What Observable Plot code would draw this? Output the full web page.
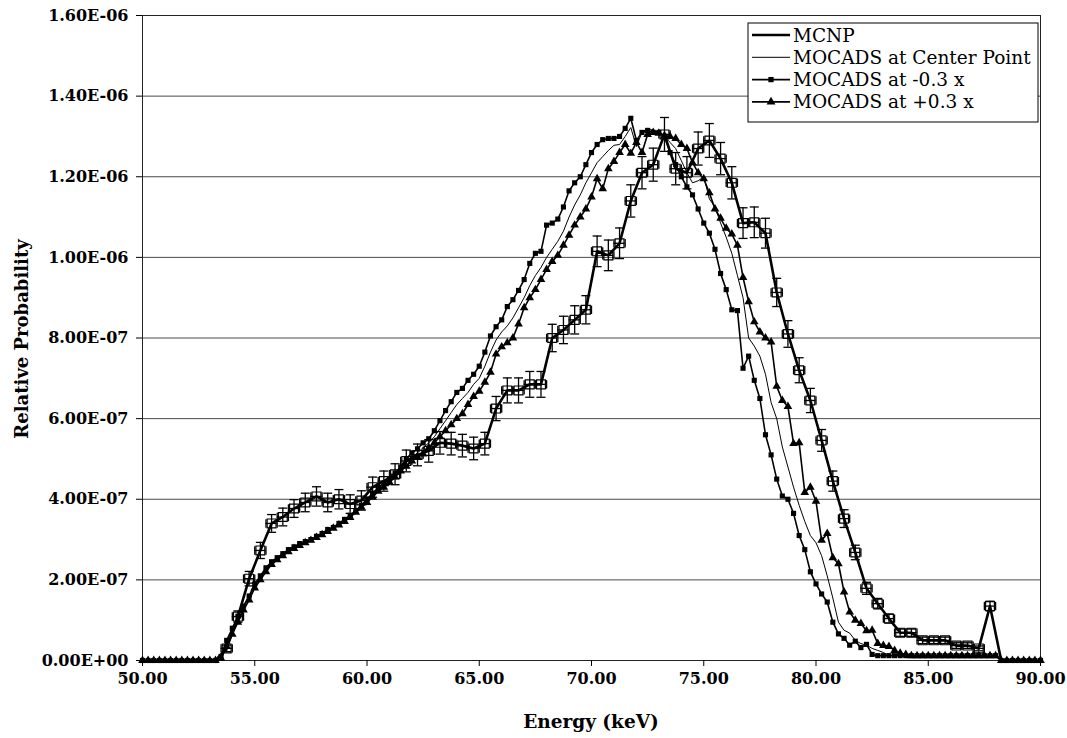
<!DOCTYPE html>
<html>
<head>
<meta charset="utf-8">
<script src="https://cdn.jsdelivr.net/npm/d3@7"></script>
<script src="https://cdn.jsdelivr.net/npm/@observablehq/plot@0.6"></script>
<style>
  html, body { margin: 0; padding: 0; background: white; }
  #chart { width: 1067px; height: 738px; }
</style>
</head>
<body>
<div id="chart"></div>
<script>
// ---------- DATA (values in units of 1e-7) ----------
const UNIT = 1e-7;

const xTicks = [50, 55, 60, 65, 70, 75, 80, 85, 90];
const yTicks = [0, 2e-7, 4e-7, 6e-7, 8e-7, 1.0e-6, 1.2e-6, 1.4e-6, 1.6e-6];

const seriesNames = ["MCNP", "MOCADS at Center Point", "MOCADS at -0.3 x", "MOCADS at +0.3 x"];

// MCNP bin centers (0.5 keV bins)
const mcnpEnergy = [
  50.25, 50.75, 51.25, 51.75, 52.25, 52.75, 53.25, 53.75, 54.25, 54.75,
  55.25, 55.75, 56.25, 56.75, 57.25, 57.75, 58.25, 58.75, 59.25, 59.75,
  60.25, 60.75, 61.25, 61.75, 62.25, 62.75, 63.25, 63.75, 64.25, 64.75,
  65.25, 65.75, 66.25, 66.75, 67.25, 67.75, 68.25, 68.75, 69.25, 69.75,
  70.25, 70.75, 71.25, 71.75, 72.25, 72.75, 73.25, 73.75, 74.25, 74.75,
  75.25, 75.75, 76.25, 76.75, 77.25, 77.75, 78.25, 78.75, 79.25, 79.75,
  80.25, 80.75, 81.25, 81.75, 82.25, 82.75, 83.25, 83.75, 84.25, 84.75,
  85.25, 85.75, 86.25, 86.75, 87.25, 87.75, 88.25, 88.75, 89.25, 89.75
];
const mcnpValue = [
  0, 0, 0, 0, 0, 0, 0, 0.30, 1.09, 2.03,
  2.73, 3.40, 3.56, 3.77, 3.92, 4.07, 3.92, 4.00, 3.88, 3.97,
  4.30, 4.45, 4.62, 4.95, 5.10, 5.20, 5.40, 5.38, 5.33, 5.26,
  5.38, 6.25, 6.70, 6.70, 6.85, 6.85, 8.00, 8.20, 8.45, 8.70,
  10.15, 10.05, 10.35, 11.40, 12.10, 12.30, 13.05, 12.20, 12.10, 12.70,
  12.90, 12.45, 11.85, 10.85, 10.87, 10.60, 9.13, 8.10, 7.20, 6.45,
  5.46, 4.45, 3.52, 2.68, 1.79, 1.41, 1.04, 0.69, 0.69, 0.50,
  0.50, 0.50, 0.37, 0.37, 0.30, 1.35, 0, 0, 0, 0
];
const mcnpError = [
  0, 0, 0, 0, 0, 0, 0, 0.08, 0.14, 0.18,
  0.20, 0.22, 0.22, 0.22, 0.23, 0.24, 0.23, 0.24, 0.23, 0.24,
  0.25, 0.25, 0.26, 0.27, 0.27, 0.28, 0.28, 0.28, 0.28, 0.28,
  0.28, 0.30, 0.31, 0.31, 0.32, 0.32, 0.34, 0.34, 0.35, 0.35,
  0.38, 0.38, 0.38, 0.40, 0.40, 0.41, 0.42, 0.40, 0.40, 0.41,
  0.42, 0.40, 0.40, 0.38, 0.38, 0.37, 0.35, 0.33, 0.31, 0.30,
  0.27, 0.25, 0.22, 0.18, 0.15, 0.13, 0.11, 0.09, 0.09, 0.08,
  0.08, 0.08, 0.07, 0.07, 0.06, 0.12, 0, 0, 0, 0
];
const mcnpBinHalfWidth = 0.25;

// MOCADS energies (0.25 keV grid)
const mocadsEnergy = [
  50.00, 50.25, 50.50, 50.75, 51.00, 51.25, 51.50, 51.75, 52.00, 52.25,
  52.50, 52.75, 53.00, 53.25, 53.50, 53.75, 54.00, 54.25, 54.50, 54.75,
  55.00, 55.25, 55.50, 55.75, 56.00, 56.25, 56.50, 56.75, 57.00, 57.25,
  57.50, 57.75, 58.00, 58.25, 58.50, 58.75, 59.00, 59.25, 59.50, 59.75,
  60.00, 60.25, 60.50, 60.75, 61.00, 61.25, 61.50, 61.75, 62.00, 62.25,
  62.50, 62.75, 63.00, 63.25, 63.50, 63.75, 64.00, 64.25, 64.50, 64.75,
  65.00, 65.25, 65.50, 65.75, 66.00, 66.25, 66.50, 66.75, 67.00, 67.25,
  67.50, 67.75, 68.00, 68.25, 68.50, 68.75, 69.00, 69.25, 69.50, 69.75,
  70.00, 70.25, 70.50, 70.75, 71.00, 71.25, 71.50, 71.75, 72.00, 72.25,
  72.50, 72.75, 73.00, 73.25, 73.50, 73.75, 74.00, 74.25, 74.50, 74.75,
  75.00, 75.25, 75.50, 75.75, 76.00, 76.25, 76.50, 76.75, 77.00, 77.25,
  77.50, 77.75, 78.00, 78.25, 78.50, 78.75, 79.00, 79.25, 79.50, 79.75,
  80.00, 80.25, 80.50, 80.75, 81.00, 81.25, 81.50, 81.75, 82.00, 82.25,
  82.50, 82.75, 83.00, 83.25, 83.50, 83.75, 84.00, 84.25, 84.50, 84.75,
  85.00, 85.25, 85.50, 85.75, 86.00, 86.25, 86.50, 86.75, 87.00, 87.25,
  87.50, 87.75, 88.00, 88.25, 88.50, 88.75, 89.00, 89.25, 89.50, 89.75,
  90.00
];
const mocadsCenter = [
  0, 0, 0, 0, 0, 0, 0, 0, 0, 0,
  0, 0, 0, 0, 0.05, 0.40, 0.70, 1.00, 1.30, 1.55,
  1.85, 2.05, 2.25, 2.40, 2.52, 2.62, 2.72, 2.80, 2.88, 2.94,
  3.00, 3.06, 3.14, 3.22, 3.30, 3.38, 3.48, 3.58, 3.70, 3.82,
  3.95, 4.10, 4.24, 4.35, 4.46, 4.60, 4.75, 4.90, 5.05, 5.15,
  5.28, 5.40, 5.55, 5.75, 5.95, 6.15, 6.35, 6.50, 6.65, 6.85,
  7.00, 7.30, 7.65, 7.95, 8.15, 8.30, 8.50, 8.75, 9.00, 9.30,
  9.55, 9.75, 10.00, 10.20, 10.40, 10.65, 11.00, 11.30, 11.55, 11.85,
  12.10, 12.35, 12.50, 12.65, 12.78, 12.80, 13.00, 13.22, 12.75, 13.10,
  13.20, 13.15, 13.10, 13.00, 12.85, 12.70, 12.40, 12.10, 11.85, 11.90,
  12.00, 11.45, 11.25, 10.85, 10.50, 10.10, 9.55, 9.00, 8.00, 7.80,
  7.55, 7.10, 6.40, 6.00, 5.30, 4.80, 4.30, 3.85, 3.45, 3.10,
  2.92, 2.60, 2.10, 1.55, 0.95, 0.75, 0.68, 0.50, 0.42, 0.38,
  0.30, 0.25, 0.20, 0.12, 0.12, 0.12, 0.12, 0.12, 0.12, 0.12,
  0.12, 0.12, 0.12, 0.12, 0.12, 0.12, 0.12, 0.12, 0.12, 0.12,
  0.12, 0.12, 0.12, 0, 0, 0, 0, 0, 0, 0,
  0
];
const mocadsMinus = [
  0, 0, 0, 0, 0, 0, 0, 0, 0, 0,
  0, 0, 0, 0, 0.10, 0.50, 0.80, 1.10, 1.35, 1.60,
  1.90, 2.10, 2.30, 2.45, 2.55, 2.65, 2.75, 2.82, 2.90, 2.95,
  3.00, 3.08, 3.15, 3.25, 3.30, 3.40, 3.50, 3.60, 3.72, 3.85,
  4.00, 4.15, 4.28, 4.40, 4.50, 4.65, 4.80, 5.00, 5.15, 5.25,
  5.40, 5.50, 5.70, 5.95, 6.20, 6.42, 6.65, 6.75, 6.95, 7.10,
  7.30, 7.65, 8.05, 8.28, 8.45, 8.78, 8.95, 9.18, 9.45, 9.85,
  10.10, 10.15, 10.80, 10.85, 10.95, 11.25, 11.65, 11.85, 12.00, 12.30,
  12.60, 12.80, 12.92, 12.95, 12.95, 13.00, 13.20, 13.45, 12.90, 13.10,
  13.15, 13.10, 13.10, 13.00, 12.60, 12.30, 12.00, 11.75, 11.55, 11.20,
  10.85, 10.60, 10.20, 9.60, 9.20, 8.70, 8.68, 7.25, 7.55, 6.95,
  6.50, 5.60, 5.10, 4.50, 4.08, 4.00, 3.65, 3.10, 2.75, 2.20,
  1.90, 1.65, 1.45, 0.95, 0.66, 0.55, 0.38, 0.48, 0.32, 0.40,
  0.15, 0.12, 0.12, 0.12, 0.12, 0.12, 0.12, 0.12, 0.12, 0.12,
  0.12, 0.12, 0.12, 0.12, 0.12, 0.12, 0.12, 0.12, 0.12, 0.12,
  0.12, 0.12, 0.12, 0, 0, 0, 0, 0, 0, 0,
  0
];
const mocadsPlus = [
  0, 0, 0, 0, 0, 0, 0, 0, 0, 0,
  0, 0, 0, 0, 0.05, 0.35, 0.65, 0.95, 1.25, 1.50,
  1.80, 2.00, 2.20, 2.38, 2.50, 2.60, 2.70, 2.78, 2.85, 2.92,
  2.98, 3.05, 3.12, 3.20, 3.28, 3.36, 3.45, 3.55, 3.68, 3.80,
  3.92, 4.05, 4.20, 4.30, 4.42, 4.55, 4.70, 4.82, 4.95, 5.05,
  5.12, 5.28, 5.40, 5.55, 5.70, 5.85, 6.00, 6.12, 6.35, 6.55,
  6.68, 6.90, 7.15, 7.60, 7.78, 7.88, 8.00, 8.35, 8.75, 9.00,
  9.20, 9.45, 9.70, 9.90, 10.05, 10.30, 10.55, 10.80, 11.00, 11.20,
  11.50, 11.95, 11.70, 12.20, 12.38, 12.60, 12.80, 12.58, 12.85, 12.60,
  13.05, 13.10, 13.08, 13.02, 13.00, 12.95, 12.80, 12.70, 12.35, 12.10,
  11.95, 11.60, 11.20, 10.97, 10.72, 10.58, 10.30, 9.50, 8.90, 8.40,
  8.15, 8.00, 7.90, 6.80, 6.45, 6.30, 5.38, 5.40, 4.17, 4.30,
  3.95, 2.98, 3.15, 2.55, 2.40, 1.70, 1.20, 1.00, 0.92, 0.74,
  0.75, 0.42, 0.37, 0.35, 0.25, 0.18, 0.15, 0.12, 0.12, 0.12,
  0.12, 0.12, 0.12, 0.12, 0.12, 0.12, 0.12, 0.12, 0.12, 0.12,
  0.12, 0.12, 0.12, 0, 0, 0, 0, 0, 0, 0,
  0
];

// ---------- sanity checks ----------
if (mcnpEnergy.length !== mcnpValue.length || mcnpEnergy.length !== mcnpError.length)
  throw new Error("MCNP lengths " + mcnpEnergy.length + " " + mcnpValue.length + " " + mcnpError.length);
[mocadsCenter, mocadsMinus, mocadsPlus].forEach((a, i) => {
  if (a.length !== mocadsEnergy.length) throw new Error("MOCADS length mismatch " + i + ": " + a.length + " vs " + mocadsEnergy.length);
});

// ---------- tables ----------
const mcnp = mcnpEnergy.map((E, i) => ({
  E, v: mcnpValue[i] * UNIT,
  lo: (mcnpValue[i] - mcnpError[i]) * UNIT, hi: (mcnpValue[i] + mcnpError[i]) * UNIT,
  xlo: E - mcnpBinHalfWidth, xhi: E + mcnpBinHalfWidth, err: mcnpError[i]
}));
const mcnpErr = mcnp.filter(d => d.err > 0);
const mocads = mocadsEnergy.map((E, i) => ({
  E, c: mocadsCenter[i] * UNIT, m: mocadsMinus[i] * UNIT, p: mocadsPlus[i] * UNIT
}));

// custom symbols for error-bar caps
const capH = { draw(ctx, size) { const r = Math.sqrt(size / Math.PI); ctx.moveTo(-r, 0); ctx.lineTo(r, 0); } };
const capV = { draw(ctx, size) { const r = Math.sqrt(size / Math.PI); ctx.moveTo(0, -r); ctx.lineTo(0, r); } };

function fmtE(v) {
  if (v === 0) return "0.00E+00";
  const [m, e] = v.toExponential(2).split("e");
  const n = +e;
  return m + "E" + (n < 0 ? "-" : "+") + String(Math.abs(n)).padStart(2, "0");
}

const W = 1067, H = 738;
const chart = Plot.plot({
  width: W, height: H,
  marginLeft: 142, marginRight: 27, marginTop: 15, marginBottom: 78,
  style: { fontFamily: "'DejaVu Serif', serif", fontSize: "16px", fontWeight: "bold", background: "white", color: "black", overflow: "visible" },
  x: { domain: [50, 90] },
  y: { domain: [0, 1.6e-6] },
  marks: [
    Plot.gridY(yTicks, { stroke: "#4a4a4a", strokeOpacity: 1, strokeWidth: 1 }),
    Plot.frame({ stroke: "#222", strokeWidth: 1 }),
    Plot.axisX(xTicks, { tickSize: 6, tickPadding: 6, tickFormat: d => d.toFixed(2), label: null, fontVariant: "normal" }),
    Plot.axisY(yTicks, { tickSize: 6, tickPadding: 8, tickFormat: fmtE, label: null, fontVariant: "normal" }),
    // MOCADS at center point: thin line
    Plot.line(mocads, { x: "E", y: "c", stroke: "black", strokeWidth: 1 }),
    // MOCADS at -0.3 x: squares
    Plot.line(mocads, { x: "E", y: "m", stroke: "black", strokeWidth: 1.6 }),
    Plot.dot(mocads, { x: "E", y: "m", symbol: "square", r: 2.9, fill: "black", stroke: "none" }),
    // MOCADS at +0.3 x: triangles
    Plot.line(mocads, { x: "E", y: "p", stroke: "black", strokeWidth: 1.6 }),
    Plot.dot(mocads, { x: "E", y: "p", symbol: "triangle", r: 3.2, fill: "black", stroke: "none" }),
    // MCNP thick line with open squares and error bars
    Plot.line(mcnp, { x: "E", y: "v", stroke: "black", strokeWidth: 2.6 }),
    Plot.dot(mcnpErr, { x: "E", y: "v", symbol: "square", r: 5, fill: "none", stroke: "black", strokeWidth: 1.2 }),
    Plot.ruleX(mcnpErr, { x: "E", y1: "lo", y2: "hi", stroke: "black", strokeWidth: 1.3 }),
    Plot.dot(mcnpErr, { x: "E", y: "lo", symbol: capH, r: 4.5, stroke: "black", strokeWidth: 1.3 }),
    Plot.dot(mcnpErr, { x: "E", y: "hi", symbol: capH, r: 4.5, stroke: "black", strokeWidth: 1.3 }),
    Plot.ruleY(mcnpErr, { y: "v", x1: "xlo", x2: "xhi", stroke: "black", strokeWidth: 1.3 }),
    Plot.dot(mcnpErr, { x: "xlo", y: "v", symbol: capV, r: 4.2, stroke: "black", strokeWidth: 1.3 }),
    Plot.dot(mcnpErr, { x: "xhi", y: "v", symbol: capV, r: 4.2, stroke: "black", strokeWidth: 1.3 })
  ]
});
document.getElementById("chart").appendChild(chart);

// ---------- axis titles & legend (layout) ----------
const svg = d3.select(chart);
svg.append("text")
  .attr("x", 591).attr("y", 728)
  .attr("text-anchor", "middle")
  .style("font-family", "'DejaVu Serif', serif").style("font-weight", "bold").style("font-size", "18.5px")
  .text("Energy (keV)");
svg.append("text")
  .attr("transform", "translate(28,339) rotate(-90)")
  .attr("text-anchor", "middle")
  .style("font-family", "'DejaVu Serif', serif").style("font-weight", "bold").style("font-size", "18px")
  .text("Relative Probability");

const lg = svg.append("g").attr("transform", "translate(748,23)");
lg.append("rect").attr("width", 290).attr("height", 99).attr("fill", "white").attr("stroke", "black").attr("stroke-width", 1);
const legendStyles = [
  { w: 2.6, marker: null },
  { w: 1, marker: null },
  { w: 1.6, marker: "square" },
  { w: 1.6, marker: "triangle" }
];
seriesNames.forEach((name, i) => {
  const y = 12 + i * 22.3;
  const s = legendStyles[i];
  lg.append("line").attr("x1", 4).attr("x2", 42).attr("y1", y).attr("y2", y).attr("stroke", "black").attr("stroke-width", s.w);
  if (s.marker === "square") {
    lg.append("path").attr("d", d3.symbol(d3.symbolSquare, 28)()).attr("transform", `translate(23,${y})`).attr("fill", "black");
  } else if (s.marker === "triangle") {
    lg.append("path").attr("d", d3.symbol(d3.symbolTriangle, 34)()).attr("transform", `translate(23,${y})`).attr("fill", "black");
  }
  lg.append("text").attr("x", 45).attr("y", y + 6.5)
    .attr("text-anchor", "start")
    .style("font-family", "'DejaVu Serif', serif").style("font-weight", "normal").style("font-size", "18.5px")
    .text(name);
});
</script>
</body>
</html>
